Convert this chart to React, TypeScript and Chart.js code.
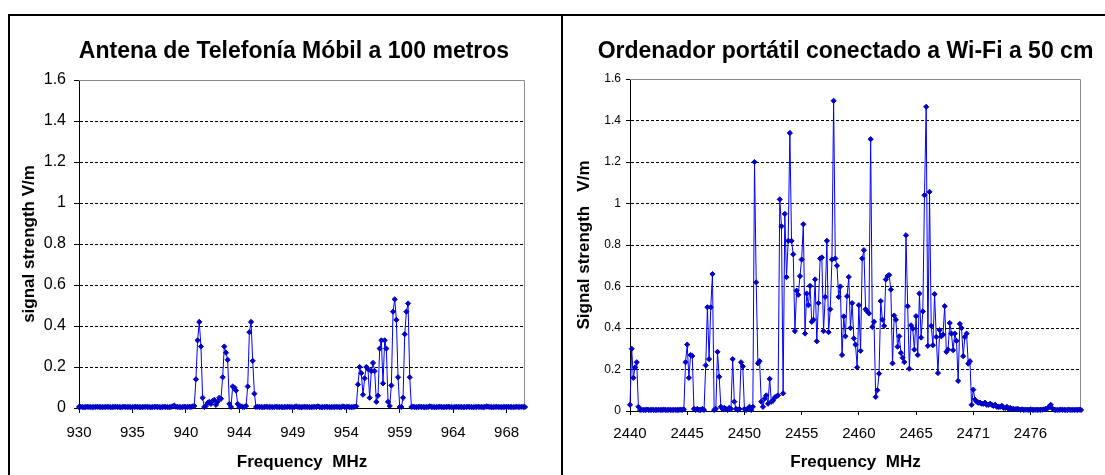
import React, { useEffect, useRef } from 'react';
import { Chart, registerables } from 'chart.js';

Chart.register(...registerables);

const FONT = '"Liberation Sans", Arial, Helvetica, sans-serif';

// ---------- Left chart: mobile antenna at 100 m ----------
const LEFT_TITLE = 'Antena de Telefonía Móbil a 100 metros';
const LEFT_Y_TITLE = 'signal strength V/m';
const LEFT_X_TITLE = 'Frequency  MHz';
const LEFT_START_MHZ = 930;
const LEFT_STEP_MHZ = 0.15;
const LEFT_TICK_LABELS = ['930', '935', '940', '944', '949', '954', '959', '964', '968'];
const LEFT_TICK_EVERY = 32;
const LEFT_VALUES = [
  0.005, 0.006, 0.005, 0.004, 0.005, 0.006, 0.005, 0.005, 0.004, 0.005,
  0.005, 0.006, 0.005, 0.005, 0.004, 0.005, 0.005, 0.006, 0.005, 0.004,
  0.005, 0.005, 0.006, 0.005, 0.005, 0.004, 0.005, 0.006, 0.005, 0.005,
  0.005, 0.004, 0.005, 0.005, 0.006, 0.005, 0.005, 0.004, 0.005, 0.005,
  0.006, 0.005, 0.005, 0.004, 0.005, 0.005, 0.006, 0.005, 0.005, 0.004,
  0.005, 0.006, 0.005, 0.005, 0.004, 0.005, 0.008, 0.012, 0.006, 0.005,
  0.005, 0.004, 0.005, 0.006, 0.005, 0.005, 0.006, 0.005, 0.008,
  0.01, 0.14, 0.33, 0.42, 0.30, 0.05, 0.005, 0.01, 0.025, 0.03, 0.02,
  0.035, 0.04, 0.015, 0.03, 0.05, 0.045, 0.15, 0.30, 0.27, 0.235,
  0.02, 0.005, 0.105, 0.10, 0.085, 0.02, 0.005, 0.008, 0.005, 0.005,
  0.01, 0.105, 0.37, 0.42, 0.23, 0.07, 0.005,
  0.006, 0.005, 0.005,
  0.004, 0.005, 0.006, 0.005, 0.005, 0.005, 0.004, 0.005, 0.006, 0.005,
  0.005, 0.005, 0.004, 0.005, 0.005, 0.006, 0.005, 0.005, 0.004, 0.005,
  0.008, 0.005, 0.005, 0.004, 0.005, 0.006, 0.005, 0.005, 0.005, 0.004,
  0.005, 0.006, 0.005, 0.008, 0.005, 0.004, 0.005, 0.005, 0.006, 0.005,
  0.005, 0.004, 0.005, 0.005, 0.006, 0.005, 0.005, 0.004, 0.008, 0.005,
  0.005, 0.006, 0.005, 0.004, 0.005, 0.006, 0.008,
  0.115, 0.20, 0.17, 0.065, 0.145, 0.20, 0.19, 0.05, 0.18, 0.22,
  0.18, 0.03, 0.06, 0.29, 0.33, 0.12, 0.33, 0.29, 0.03, 0.01,
  0.11, 0.47, 0.53, 0.43, 0.15, 0.005, 0.005, 0.05, 0.36, 0.47,
  0.51, 0.15,
  0.005, 0.006, 0.005, 0.004, 0.005, 0.006, 0.005, 0.005, 0.004, 0.005,
  0.005, 0.008, 0.005, 0.005, 0.004, 0.005, 0.005, 0.006, 0.005, 0.004,
  0.005, 0.005, 0.006, 0.005, 0.005, 0.004, 0.005, 0.006, 0.005, 0.005,
  0.005, 0.004, 0.005, 0.005, 0.006, 0.005, 0.005, 0.004, 0.005, 0.005,
  0.006, 0.005, 0.005, 0.004, 0.005, 0.008, 0.006, 0.005, 0.005, 0.004,
  0.005, 0.006, 0.005, 0.005, 0.004, 0.005, 0.005, 0.006, 0.005, 0.005,
  0.005, 0.004, 0.005, 0.006, 0.005, 0.005, 0.006, 0.005, 0.005,
];

// ---------- Right chart: laptop on Wi-Fi at 50 cm ----------
const RIGHT_TITLE = 'Ordenador portátil conectado a Wi-Fi a 50 cm';
const RIGHT_Y_TITLE = 'Signal strength   V/m';
const RIGHT_X_TITLE = 'Frequency  MHz';
const RIGHT_START_MHZ = 2440;
const RIGHT_STEP_MHZ = 0.15;
const RIGHT_TICK_LABELS = ['2440', '2445', '2450', '2455', '2460', '2465', '2471', '2476'];
const RIGHT_TICK_EVERY = 34;
const RIGHT_VALUES = [
  0.03, 0.30, 0.16, 0.21, 0.235, 0.02,
  0.005, 0.006, 0.005, 0.005, 0.007, 0.005, 0.005, 0.006, 0.005, 0.005,
  0.005, 0.006, 0.005, 0.005, 0.007, 0.005, 0.005, 0.006, 0.005, 0.005,
  0.005, 0.006, 0.005, 0.005, 0.007, 0.005, 0.008,
  0.235, 0.32, 0.16, 0.27, 0.265, 0.01,
  0.005, 0.01, 0.005, 0.005, 0.01, 0.005,
  0.22, 0.50, 0.25, 0.50, 0.66, 0.005, 0.01, 0.285, 0.165, 0.02,
  0.01, 0.015, 0.01, 0.005, 0.015, 0.01,
  0.25, 0.045, 0.01, 0.005, 0.01, 0.235, 0.215, 0.01, 0.005, 0.01, 0.02, 0.005, 0.02,
  1.20, 0.62, 0.23, 0.24, 0.045, 0.02, 0.06, 0.075, 0.035, 0.155,
  0.045, 0.05, 0.065, 0.07, 0.075, 1.02, 0.89, 0.085, 0.95, 0.645,
  0.82, 1.34, 0.82, 0.755, 0.385, 0.58, 0.56, 0.65, 0.73, 0.90,
  0.373, 0.566, 0.51, 0.603, 0.43, 0.44, 0.634, 0.336, 0.52, 0.735,
  0.74, 0.385, 0.55, 0.82, 0.38, 0.49, 0.73, 1.495, 0.735, 0.70,
  0.55, 0.60, 0.27, 0.456, 0.36, 0.553, 0.646, 0.40, 0.52, 0.35,
  0.32, 0.21, 0.51, 0.29, 0.735, 0.775, 0.49, 0.48, 0.47, 1.31,
  0.405, 0.43, 0.068, 0.10, 0.18, 0.53, 0.44, 0.41, 0.634, 0.65,
  0.655, 0.585, 0.23, 0.46, 0.44, 0.31, 0.36, 0.28, 0.257, 0.236,
  0.847, 0.505, 0.204, 0.413, 0.397, 0.296, 0.457, 0.27, 0.566, 0.354,
  0.48, 1.04, 1.466, 0.314, 1.056, 0.41, 0.317, 0.563, 0.357, 0.183,
  0.39, 0.36, 0.368, 0.505, 0.285, 0.296, 0.424, 0.373, 0.293, 0.373,
  0.338, 0.145, 0.42, 0.40, 0.264, 0.357, 0.373, 0.228, 0.24, 0.03,
  0.103, 0.055, 0.045, 0.04, 0.04, 0.035, 0.035, 0.04, 0.03, 0.03,
  0.035, 0.03, 0.025, 0.03, 0.02, 0.02, 0.02, 0.025, 0.015, 0.015,
  0.02, 0.01, 0.015, 0.01, 0.01, 0.008, 0.01, 0.008, 0.006, 0.008,
  0.005, 0.007, 0.006, 0.005, 0.008, 0.006, 0.005, 0.007, 0.005, 0.006,
  0.005, 0.007, 0.008, 0.01, 0.012, 0.02, 0.03, 0.012, 0.006, 0.005,
  0.006, 0.005, 0.007, 0.005, 0.006, 0.005, 0.005, 0.007, 0.005, 0.006,
  0.005, 0.006, 0.005, 0.007, 0.005,
];

const Y_TICK_LABELS = ['0', '0.2', '0.4', '0.6', '0.8', '1', '1.2', '1.4', '1.6'];
const Y_MAX = 1.6;
const Y_STEP = 0.2;

type Panel = {
  title: string;
  yTitle: string;
  xTitle: string;
  start: number;
  step: number;
  values: number[];
  tickLabels: string[];
  tickEvery: number;
  left: number;
  top: number;
  width: number;
  height: number;
  padTop: number;
  padRight: number;
  yWidth: number;
  xHeight: number;
  titleX: number;
  titleY: number;
  yTitlePad: number;
  xTitlePad: number;
  yTickFont: number;
  yTickPad: number;
  tickLen: number;
  xTickFont: number;
  xTickPad: number;
};

const LEFT_PANEL: Panel = {
  title: LEFT_TITLE, yTitle: LEFT_Y_TITLE, xTitle: LEFT_X_TITLE,
  start: LEFT_START_MHZ, step: LEFT_STEP_MHZ, values: LEFT_VALUES,
  tickLabels: LEFT_TICK_LABELS, tickEvery: LEFT_TICK_EVERY,
  left: 10, top: 17, width: 550, height: 458,
  padTop: 63, padRight: 35, yWidth: 69, xHeight: 67,
  titleX: 284, titleY: 41, yTitlePad: 9.3, xTitlePad: 2.8,
  yTickFont: 16, yTickPad: 8, tickLen: 5, xTickFont: 15, xTickPad: 11,
};

const RIGHT_PANEL: Panel = {
  title: RIGHT_TITLE, yTitle: RIGHT_Y_TITLE, xTitle: RIGHT_X_TITLE,
  start: RIGHT_START_MHZ, step: RIGHT_STEP_MHZ, values: RIGHT_VALUES,
  tickLabels: RIGHT_TICK_LABELS, tickEvery: RIGHT_TICK_EVERY,
  left: 563, top: 17, width: 542, height: 458,
  padTop: 62, padRight: 24, yWidth: 67, xHeight: 64,
  titleX: 282.5, titleY: 41, yTitlePad: 10.8, xTitlePad: 2.8,
  yTickFont: 12, yTickPad: 5, tickLen: 4, xTickFont: 15, xTickPad: 10,
};

function SpectrumChart({ p }: { p: Panel }) {
  const ref = useRef<HTMLCanvasElement | null>(null);

  useEffect(() => {
    if (!ref.current) return;
    const categories = p.values.map((_, i) => (p.start + i * p.step).toFixed(2));

    const framePlugin = {
      id: 'frameAndTitle',
      beforeDatasetsDraw(chart: any) {
        const { ctx, chartArea } = chart;
        const { left, right, top, bottom } = chartArea;
        ctx.save();
        ctx.strokeStyle = '#8c8c8c';
        ctx.lineWidth = 1;
        ctx.setLineDash([]);
        ctx.beginPath();
        ctx.moveTo(Math.round(left), Math.round(top) + 0.5);
        ctx.lineTo(Math.round(right) - 0.5, Math.round(top) + 0.5);
        ctx.lineTo(Math.round(right) - 0.5, Math.round(bottom));
        ctx.stroke();
        ctx.restore();
      },
      afterDraw(chart: any) {
        const { ctx } = chart;
        ctx.save();
        ctx.font = `bold 23px ${FONT}`;
        ctx.fillStyle = '#000';
        ctx.textAlign = 'center';
        ctx.textBaseline = 'alphabetic';
        ctx.fillText(p.title, p.titleX, p.titleY);
        ctx.restore();
      },
    };

    const chart = new Chart(ref.current, {
      type: 'line',
      data: {
        labels: categories,
        datasets: [
          {
            data: p.values,
            borderColor: '#0000ff',
            borderWidth: 1,
            pointStyle: 'rectRot',
            pointRadius: 2.6,
            pointBackgroundColor: '#0000c8',
            pointBorderColor: '#0000c8',
            pointBorderWidth: 1,
            tension: 0,
            fill: false,
            clip: false,
          } as any,
        ],
      },
      options: {
        responsive: false,
        animation: false,
        events: [],
        layout: { padding: { top: p.padTop, right: p.padRight, left: 0, bottom: 0 } },
        plugins: {
          legend: { display: false },
          tooltip: { enabled: false },
          title: { display: false },
        },
        scales: {
          x: {
            type: 'category',
            offset: false,
            afterFit: (scale: any) => { scale.height = p.xHeight; },
            grid: {
              display: true,
              drawOnChartArea: false,
              drawTicks: true,
              tickLength: p.tickLen,
              tickColor: '#000',
              tickWidth: 1,
            },
            border: { display: true, color: '#000', width: 1 },
            ticks: {
              autoSkip: false,
              maxRotation: 0,
              minRotation: 0,
              padding: p.xTickPad,
              color: '#000',
              font: { family: FONT, size: p.xTickFont },
              callback: (_v: any, index: number) =>
                index % p.tickEvery === 0 && p.tickLabels[index / p.tickEvery] !== undefined
                  ? p.tickLabels[index / p.tickEvery]
                  : null,
            },
            title: {
              display: true,
              text: p.xTitle,
              color: '#000',
              font: { family: FONT, size: 17, weight: 'bold' },
              padding: { top: 0, bottom: p.xTitlePad },
            },
          },
          y: {
            type: 'linear',
            min: 0,
            max: Y_MAX,
            afterFit: (scale: any) => { scale.width = p.yWidth; },
            grid: {
              display: true,
              drawOnChartArea: true,
              drawTicks: true,
              tickLength: p.tickLen,
              tickColor: '#000',
              tickWidth: 1,
              tickBorderDash: [],
              lineWidth: 1,
              color: (ctx: any) => {
                const v = ctx.tick ? ctx.tick.value : 0;
                return v < 0.01 || v > Y_MAX - 0.01 ? 'rgba(0,0,0,0)' : '#000';
              },
            },
            border: { display: true, color: '#000', width: 1, dash: [3, 2] },
            ticks: {
              stepSize: Y_STEP,
              padding: p.yTickPad,
              color: '#000',
              font: { family: FONT, size: p.yTickFont },
              callback: (_v: any, index: number) => Y_TICK_LABELS[index],
            },
            title: {
              display: true,
              text: p.yTitle,
              color: '#000',
              font: { family: FONT, size: 17, weight: 'bold' },
              padding: { top: p.yTitlePad, bottom: 0 },
            },
          },
        },
      } as any,
      plugins: [framePlugin],
    });

    return () => chart.destroy();
  }, [p]);

  return (
    <canvas
      ref={ref}
      width={p.width}
      height={p.height}
      style={{ position: 'absolute', left: p.left, top: p.top, width: p.width, height: p.height }}
    />
  );
}

export default function App() {
  const line = (style: React.CSSProperties) => (
    <div style={{ position: 'absolute', background: '#000', ...style }} />
  );
  return (
    <div>
      {line({ left: 8, top: 14, width: 1097, height: 2 })}
      {line({ left: 8, top: 14, width: 2, height: 461 })}
      {line({ left: 561, top: 14, width: 2, height: 461 })}
      <SpectrumChart p={LEFT_PANEL} />
      <SpectrumChart p={RIGHT_PANEL} />
    </div>
  );
}
